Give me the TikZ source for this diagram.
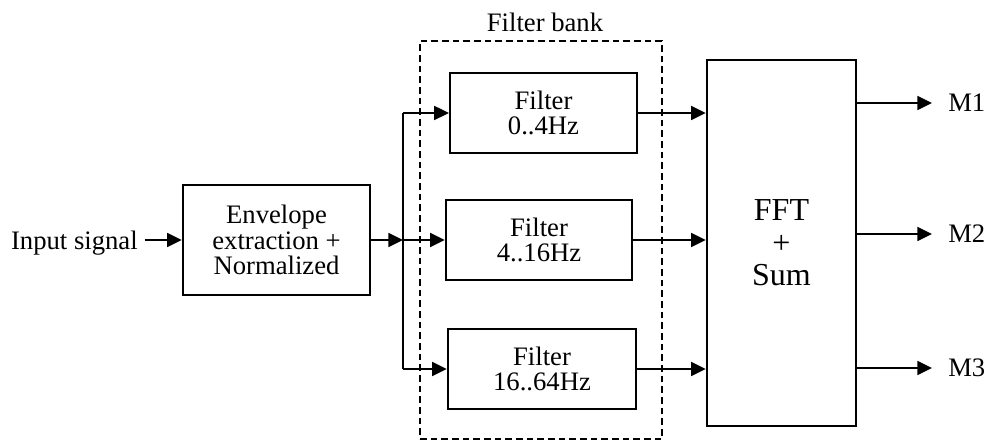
\documentclass[tikz,border=0pt]{standalone}
\usepackage{fontspec}
\setmainfont{Liberation Serif}
\usetikzlibrary{arrows.meta}
\begin{document}
\begin{tikzpicture}[x=0.75pt, y=-0.75pt,
  txt/.style={font=\fontsize{20}{19}\selectfont, inner sep=0pt},
  blockbox/.style={draw, line width=1.9pt, rectangle, align=center,
    font=\fontsize{20}{19}\selectfont, inner sep=0pt},
  arr/.style={line width=1.3pt, -{Triangle[length=11pt, width=10.5pt]}},
  wire/.style={line width=1.3pt},
  bankbox/.style={draw, line width=1.5pt, dash pattern=on 5pt off 3pt, rectangle, inner sep=0pt}]
\useasboundingbox (0,0) rectangle (986,441);

% filter bank enclosure and its caption
\node[bankbox, minimum width=181.5pt, minimum height=298.5pt] (bank) at (541,240) {};
\node[txt, anchor=base] (banklbl) at (545,32) {Filter bank};

% processing blocks
\node[txt, anchor=base east] (inp) at (138,250) {Input signal};
\node[blockbox, minimum width=140.25pt, minimum height=82.5pt] (env) at (276.5,240)
  {Envelope\\extraction +\\Normalized};
\node[blockbox, minimum width=140pt, minimum height=60pt] (f1) at (543.5,113) {Filter\\0..4Hz};
\node[blockbox, minimum width=139.5pt, minimum height=60pt] (f2) at (539,240) {Filter\\4..16Hz};
\node[blockbox, minimum width=141pt, minimum height=60pt] (f3) at (542,369) {Filter\\16..64Hz};
\node[blockbox, minimum width=111.75pt, minimum height=274.5pt,
  font=\fontsize{24}{24.5}\selectfont] (fft) at (781.5,243) {FFT\\+\\Sum};

% outputs
\node[txt, anchor=west] (m1) at (948,103) {M1};
\node[txt, anchor=west] (m2) at (948,234) {M2};
\node[txt, anchor=west] (m3) at (948,368) {M3};

% split point feeding the filters
\coordinate (j) at (403,240);

% connectors
\draw[arr] ([xshift=5pt]inp.east |- env.west) -- (env.west);
\draw[arr] (env.east) -- (j);
\draw[wire] (j |- f1.west) -- (j |- f3.west);
\draw[arr] (j |- f1.west) -- (f1.west);
\draw[arr] (j) -- (f2.west);
\draw[arr] (j |- f3.west) -- (f3.west);
\draw[arr] (f1.east) -- (f1.east -| fft.west);
\draw[arr] (f2.east) -- (f2.east -| fft.west);
\draw[arr] (f3.east) -- (f3.east -| fft.west);
\draw[arr] (fft.east |- m1.west) -- ([xshift=-12pt]m1.west);
\draw[arr] (fft.east |- m2.west) -- ([xshift=-12pt]m2.west);
\draw[arr] (fft.east |- m3.west) -- ([xshift=-12pt]m3.west);
\end{tikzpicture}
\end{document}
